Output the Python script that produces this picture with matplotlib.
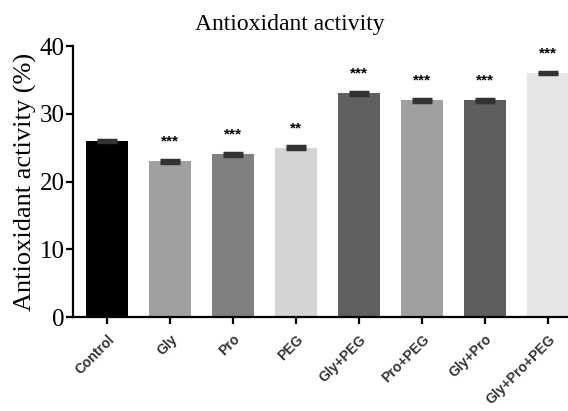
import matplotlib.pyplot as plt
import numpy as np

groups = ['Control', 'Gly', 'Pro', 'PEG', 'Gly+PEG', 'Pro+PEG', 'Gly+Pro', 'Gly+Pro+PEG']
activity = [26, 23, 24, 25, 33, 32, 32, 36]
errors = [0.2, 0.2, 0.2, 0.2, 0.2, 0.2, 0.2, 0.2]
stars = ['', '***', '***', '**', '***', '***', '***', '***']
colors = ['#000000', '#a0a0a2', '#808080', '#d4d4d4', '#606060', '#a0a0a2', '#5e5e5e', '#e6e6e6']

fig = plt.figure(figsize=(5.68, 4.11), dpi=100)
ax = fig.add_axes([0.1285, 0.2287, 0.8715, 0.6593])

x = np.arange(len(groups))
ax.bar(x, activity, width=0.67, color=colors, zorder=2)
ax.errorbar(x, activity, yerr=errors, fmt='none', ecolor='#333333',
            elinewidth=2, capsize=7.5, capthick=2.5, zorder=3)

for xi, v, s in zip(x, activity, stars):
    if s:
        ax.text(xi, v + 2.9, s, ha='center', va='center', fontsize=11,
                fontweight='bold', family='Liberation Sans')

ax.set_xlim(-0.54, 7.32)
ax.set_ylim(0, 40)
ax.set_yticks([0, 10, 20, 30, 40])
ax.set_xticks(x)
ax.set_xticklabels(groups, rotation=45, ha='right', rotation_mode='anchor',
                   fontsize=10, fontweight='bold', family='Liberation Sans',
                   color='#333333')
for lbl in ax.get_yticklabels():
    lbl.set_family('Liberation Serif')
    lbl.set_fontsize(18)

ax.spines['top'].set_visible(False)
ax.spines['right'].set_visible(False)
ax.spines['left'].set_linewidth(1.6)
ax.spines['bottom'].set_linewidth(1.6)
ax.tick_params(axis='y', width=1.6, length=5, pad=1)
ax.tick_params(axis='x', width=1.6, length=5, pad=6)

ax.set_ylabel('Antioxidant activity (%)', family='Liberation Serif', fontsize=19, labelpad=2)
fig.text(0.51, 0.94, 'Antioxidant activity', ha='center', va='center',
         family='Liberation Serif', fontsize=17)

fig.savefig('out.png', dpi=100)
